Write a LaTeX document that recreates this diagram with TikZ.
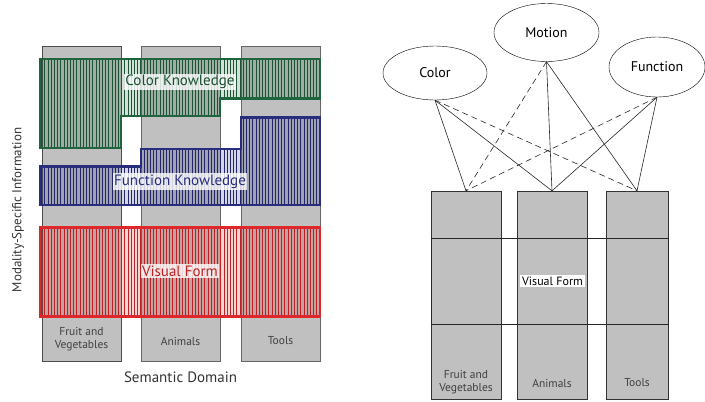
\documentclass[tikz,border=0pt]{standalone}
\usepackage{fontspec}
\setmainfont{PT Sans}
\usetikzlibrary{patterns.meta,shapes.geometric}
\definecolor{domaingray}{RGB}{192,192,192}
\definecolor{cgreen}{RGB}{30,100,60}
\definecolor{cblue}{RGB}{40,45,125}
\definecolor{cred}{RGB}{220,40,40}
\tikzset{
  domainbox/.style={draw=gray!80!black, fill=domaingray, inner sep=0pt},
  zone/.style={line width=2.5pt, draw=#1,
    preaction={fill=#1, fill opacity=0.2},
    preaction={pattern={Lines[distance=3.2pt, angle=90, line width=0.9pt]}, pattern color=#1!85!black}},
  zonelabel/.style={fill=white, fill opacity=0.8, text opacity=1, inner sep=1.5pt,
    font=\fontsize{15}{17}\selectfont},
  smalllabel/.style={text=black!75, align=center, font=\fontsize{11.5}{13}\selectfont},
  feature/.style={draw, ellipse, inner sep=0pt, font=\fontsize{14}{16}\selectfont},
  link/.style={semithick, black!85},
  dashlink/.style={link, dash pattern=on 6pt off 4pt}
}
\begin{document}
\begin{tikzpicture}[x=1pt, y=-1pt]
\useasboundingbox (0,0) rectangle (705,402);

% left panel: semantic domains
\node[domainbox, minimum width=79pt, minimum height=315pt, draw=black!70] (fruitL) at (81.5,203.2) {};
\node[domainbox, minimum width=79pt, minimum height=315pt] (animalsL) at (180.5,203.2) {};
\node[domainbox, minimum width=79pt, minimum height=315pt] (toolsL) at (280.5,203.2) {};

% modality-specific zones
\path[zone=cgreen] (40,59) -- (320,59) -- (320,98.7) -- (220,98.7) -- (220,116)
  -- (121,116) -- (121,148) -- (40,148) -- cycle;
\path[zone=cblue] (40,166.7) -- (141,166.7) -- (141,149) -- (241,149) -- (241,117.3)
  -- (320,117.3) -- (320,205) -- (40,205) -- cycle;
\path[zone=cred] (40,227.3) rectangle (320,316.7);

\node[zonelabel, text=cgreen!80!black] (colorlab) at (180,82) {Color Knowledge};
\node[zonelabel, text=cblue] (functionlab) at (180,181.5) {Function Knowledge};
\node[zonelabel, text=cred!85!black] (visuallab) at (180,271) {Visual Form};

\node[smalllabel] at (81.5,339) {Fruit and\\Vegetables};
\node[smalllabel] at (180.5,341) {Animals};
\node[smalllabel] at (280.5,341) {Tools};

\node[font=\fontsize{15}{17}\selectfont, text=black!80] (domainlab) at (180.5,377) {Semantic Domain};
\node[rotate=90, font=\fontsize{13}{15}\selectfont, text=black!80] (modalitylab) at (18,210) {Modality-Specific Information};

% right panel: feature units
\node[feature, minimum width=104pt, minimum height=54pt] (color) at (435,73) {Color};
\node[feature, minimum width=105pt, minimum height=58pt] (motion) at (546.5,32.5) {Motion};
\node[feature, minimum width=96pt, minimum height=60pt] (function) at (657,67) {Function};

\node[domainbox, minimum width=70pt, minimum height=208pt, draw=black!80] (fruitR) at (466,295) {};
\node[domainbox, minimum width=70pt, minimum height=208pt, draw=black!80] (animalsR) at (552,295) {};
\node[domainbox, minimum width=62pt, minimum height=208pt, draw=black!80] (toolsR) at (637,295) {};

\node[draw=black!85, semithick, minimum width=237pt, minimum height=86pt, inner sep=0pt] (formR) at (549.5,281) {};
\node[fill=white, inner sep=2pt, font=\fontsize{12}{14}\selectfont] (formlab) at (552.5,281) {Visual Form};

\node[smalllabel] at (466,382) {Fruit and\\Vegetables};
\node[smalllabel] at (552,383) {Animals};
\node[smalllabel] at (637,383) {Tools};

\draw[link] (color.south) -- (fruitR.north);
\draw[link] (color.south) -- (animalsR.north);
\draw[dashlink] (color.south) -- (toolsR.north);
\draw[dashlink] (motion.south) -- (fruitR.north);
\draw[link] (motion.south) -- (animalsR.north);
\draw[link] (motion.south) -- (toolsR.north);
\draw[dashlink] (function.south) -- (fruitR.north);
\draw[link] (function.south) -- (animalsR.north);
\draw[link] (function.south) -- (toolsR.north);
\end{tikzpicture}
\end{document}
